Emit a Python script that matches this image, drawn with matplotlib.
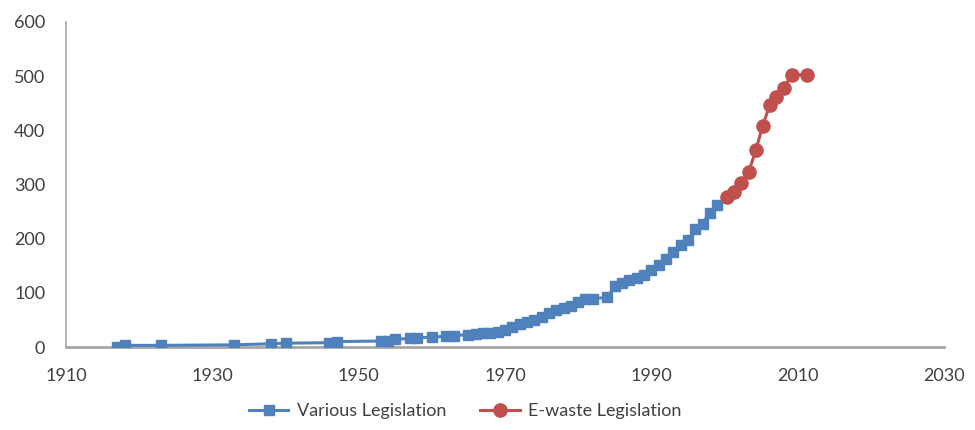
"""
Cumulative count of legislation over time: various vs e-waste legislation.
"""

import matplotlib
matplotlib.use("Agg")
import matplotlib.pyplot as plt

# ── Data ──────────────────────────────────────────────────────────────
various_years = [1917, 1918, 1923, 1933, 1938, 1940, 1946, 1947, 1953, 1954,
                 1955, 1957, 1958, 1960, 1962, 1963, 1965, 1966, 1967, 1968,
                 1969, 1970, 1971, 1972, 1973, 1974, 1975, 1976, 1977, 1978,
                 1979, 1980, 1981, 1982, 1984, 1985, 1986, 1987, 1988, 1989,
                 1990, 1991, 1992, 1993, 1994, 1995, 1996, 1997, 1998, 1999]
various_counts = [0, 3, 3, 4, 6, 7, 8, 10, 11, 12,
                  14, 16, 17, 18, 20, 21, 23, 24, 25, 26,
                  28, 32, 37, 42, 46, 50, 55, 63, 68, 72,
                  76, 84, 88, 89, 92, 112, 118, 124, 127, 133,
                  142, 152, 163, 175, 188, 197, 218, 228, 248, 262]

ewaste_years = [2000.3, 2001.3, 2002.3, 2003.3, 2004.3, 2005.2, 2006.2,
                2007.1, 2008.1, 2009.2, 2011.3]
ewaste_counts = [276, 287, 302, 323, 364, 408, 447, 462, 478, 503, 502]

x_ticks = [1910, 1930, 1950, 1970, 1990, 2010, 2030]
y_ticks = [0, 100, 200, 300, 400, 500, 600]

BLUE = "#4F81BD"
RED = "#C0504D"
GRAY = "#A6A6A6"
TEXT = "#404040"

plt.rcParams["font.family"] = ["Lato", "DejaVu Sans"]

fig = plt.figure(figsize=(9.75, 4.3), dpi=100)
ax = fig.add_axes([66 / 975, 1 - 347 / 430, (944 - 66) / 975, (347 - 22) / 430])

ax.plot(various_years, various_counts, color=BLUE, lw=2.2, marker="s",
        ms=7.5, mec=BLUE, mfc=BLUE, label="Various Legislation", zorder=3)
ax.plot(ewaste_years, ewaste_counts, color=RED, lw=2.2, marker="o",
        ms=9.5, mec=RED, mfc=RED, label="E-waste Legislation", zorder=4)

ax.set_xlim(1910, 2030)
ax.set_ylim(0, 600)
ax.set_xticks(x_ticks)
ax.set_yticks(y_ticks)
ax.tick_params(axis="both", length=0, labelsize=13, colors=TEXT)
ax.tick_params(axis="y", pad=15)
ax.tick_params(axis="x", pad=15)

for side in ("top", "right"):
    ax.spines[side].set_visible(False)
ax.spines["left"].set_color(GRAY)
ax.spines["left"].set_linewidth(1.2)
ax.spines["bottom"].set_color(GRAY)
ax.spines["bottom"].set_linewidth(2.0)

leg = fig.legend(loc="center", bbox_to_anchor=(0.477, 1 - 411 / 430), ncol=2,
                 frameon=False, fontsize=13, handlelength=2.2,
                 columnspacing=1.9, handletextpad=0.45)
for t in leg.get_texts():
    t.set_color(TEXT)

fig.savefig("out.png", dpi=100)
